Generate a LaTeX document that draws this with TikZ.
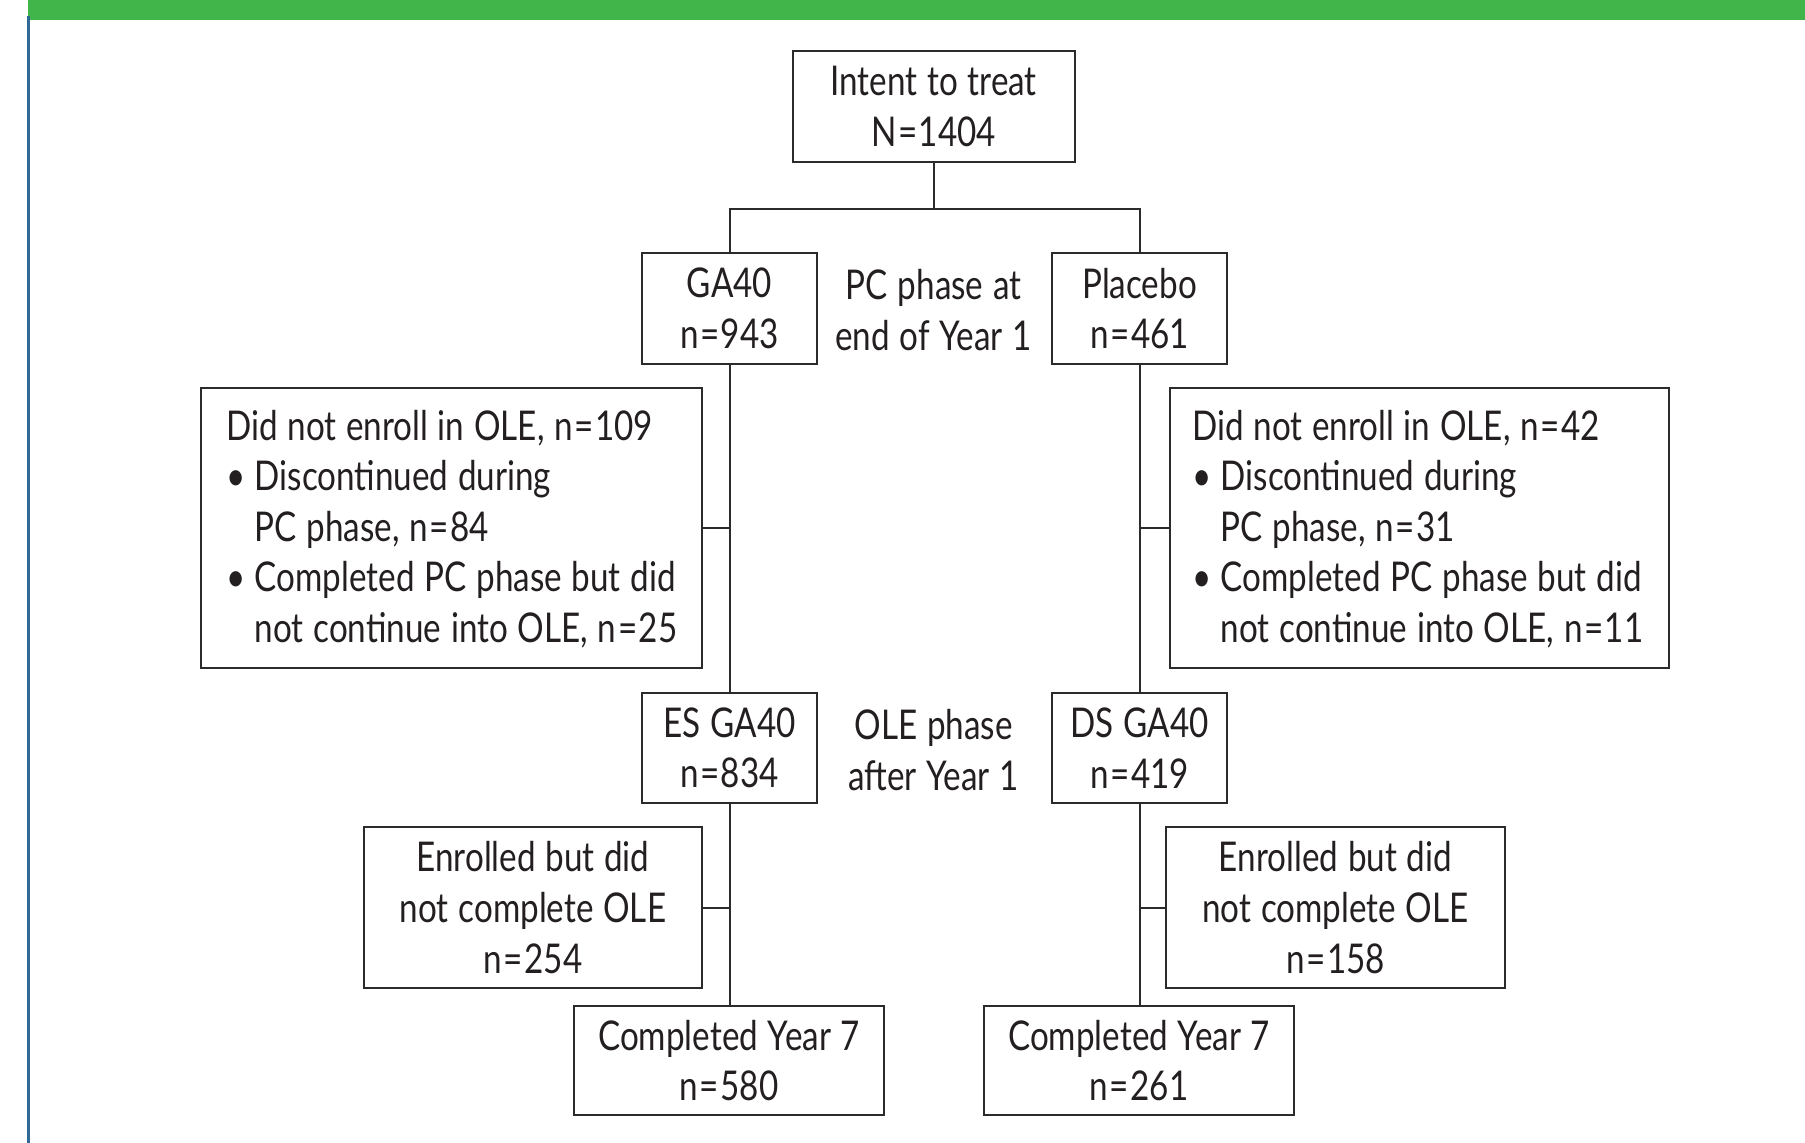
\documentclass[tikz,border=0pt]{standalone}
\usepackage{fontspec}
\setmainfont{Lato}[FakeStretch=0.81,WordSpace={1.15,0.5,0.5}]
\definecolor{barGreen}{HTML}{41B549}
\definecolor{barBlue}{HTML}{2E6A94}
\definecolor{inkc}{HTML}{231F20}
\definecolor{linec}{HTML}{2B2B2B}
\newcommand{\bl}{\makebox[28.6pt][l]{\textbullet}}
\newcommand{\bh}{\hspace*{28.6pt}}
\newcommand{\eq}{\kern1.5pt=\kern1.5pt}
\begin{document}
\begin{tikzpicture}[x=1pt,y=-1pt,
  every node/.style={text=inkc, font=\fontsize{41}{50.6}\selectfont},
  cbox/.style={draw=linec, line width=2pt, align=center, inner sep=0pt},
  plain/.style={align=center, inner sep=0pt},
  ltext/.style={align=left, inner sep=0pt, anchor=west},
  conn/.style={draw=linec, line width=2pt}]
\useasboundingbox (0,0) rectangle (1805,1143);
\fill[white] (0,0) rectangle (1805,1143);
\fill[barGreen] (28,0) rectangle (1805,20);
\fill[barBlue] (27,16) rectangle (29.7,1143);

\node[cbox, minimum width=282pt, minimum height=111pt] (itt) at (933.7,106.5) {Intent to treat\\N\eq 1404};
\node[cbox, minimum width=175pt, minimum height=111pt] (ga) at (729.5,308.5) {GA40\\n\eq 943};
\node[cbox, minimum width=175pt, minimum height=111pt] (pl) at (1139.5,308.5) {Placebo\\n\eq 461};
\node[plain] (pc) at (933.7,310) {PC phase at\\end of Year 1};

\node[cbox, minimum width=501pt, minimum height=280pt] (dl) at (451.5,528) {};
\node[ltext] (dlt) at ([xshift=26pt,yshift=-1pt]dl.west) {Did not enroll in OLE, n\eq 109\\\bl Discontinued during\\\bh PC phase, n\eq 84\\\bl Completed PC phase but did\\\bh not continue into OLE, n\eq 25};
\node[cbox, minimum width=499pt, minimum height=280pt] (dr) at (1419.5,528) {};
\node[ltext] (drt) at ([xshift=23pt,yshift=-1pt]dr.west) {Did not enroll in OLE, n\eq 42\\\bl Discontinued during\\\bh PC phase, n\eq 31\\\bl Completed PC phase but did\\\bh not continue into OLE, n\eq 11};

\node[cbox, minimum width=175pt, minimum height=110pt] (es) at (729.5,748) {ES GA40\\n\eq 834};
\node[cbox, minimum width=175pt, minimum height=110pt] (ds) at (1139.5,748) {DS GA40\\n\eq 419};
\node[plain] (ole) at (933.7,750) {OLE phase\\after Year 1};

\node[cbox, minimum width=338pt, minimum height=161pt] (el) at (533,907.5) {Enrolled but did\\not complete OLE\\n\eq 254};
\node[cbox, minimum width=339pt, minimum height=161pt] (er) at (1335.5,907.5) {Enrolled but did\\not complete OLE\\n\eq 158};

\node[cbox, minimum width=310pt, minimum height=109pt] (cl) at (729.2,1060.5) {Completed Year 7\\n\eq 580};
\node[cbox, minimum width=310pt, minimum height=109pt] (cr) at (1139.2,1060.5) {Completed Year 7\\n\eq 261};

\coordinate (j) at (933.7,209);
\coordinate (jl) at (729.5,209);
\coordinate (jr) at (1139.5,209);
\draw[conn] (itt.south) -- (j);
\draw[conn] (ga.north) -- (jl) -- (jr) -- (pl.north);
\draw[conn] (ga.south) -- (es.north);
\draw[conn] (pl.south) -- (ds.north);
\draw[conn] (es.south) -- (es.south |- cl.north);
\draw[conn] (ds.south) -- (ds.south |- cr.north);
\draw[conn] (dl.east) -- (dl.east -| ga.south);
\draw[conn] (dr.west) -- (dr.west -| pl.south);
\draw[conn] (el.east) -- (el.east -| es.south);
\draw[conn] (er.west) -- (er.west -| ds.south);
\end{tikzpicture}
\end{document}
